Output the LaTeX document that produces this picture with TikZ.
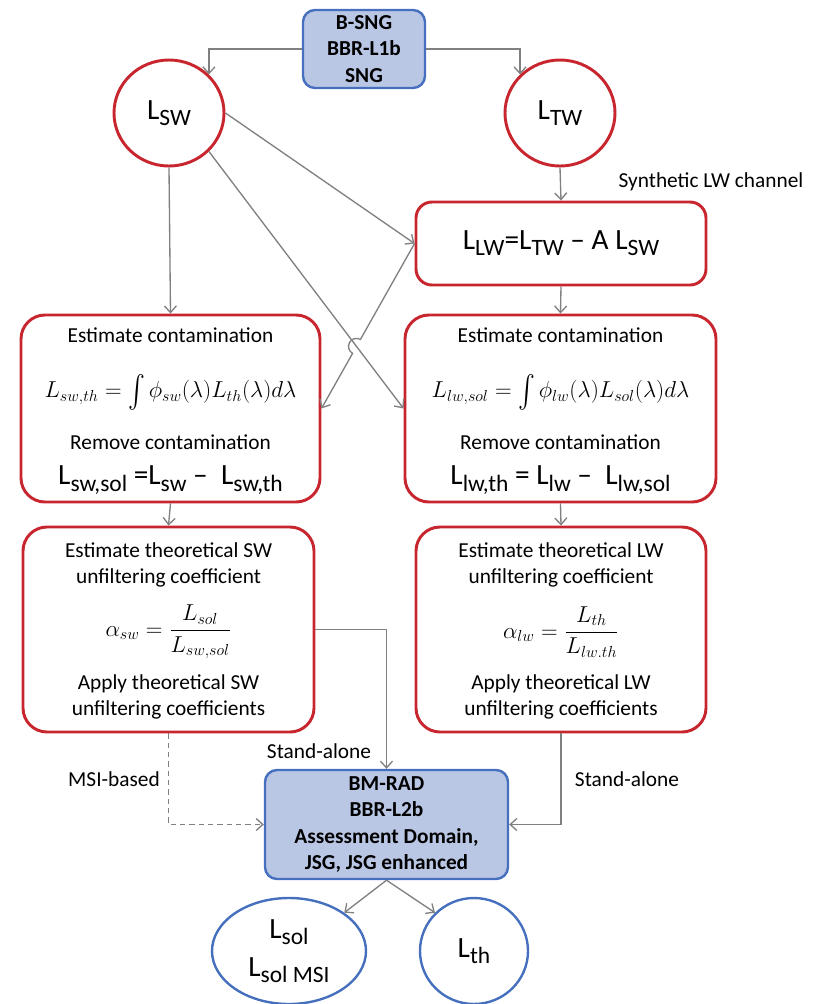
\documentclass[tikz,border=0pt]{standalone}
\usepackage{amsmath}
\usepackage{fontspec}
\setmainfont{Carlito}
\usetikzlibrary{arrows.meta,calc,positioning,shapes.geometric,intersections}

\definecolor{boxred}{RGB}{200,38,46}
\definecolor{boxblue}{RGB}{70,112,190}
\definecolor{fillblue}{RGB}{185,198,228}
\definecolor{linkgray}{RGB}{128,128,128}

% lowered, slightly smaller text subscript (Word style)
\newcommand{\lsub}[1]{\raisebox{-0.45ex}{\scalebox{0.8}{#1}}}
% tall integral sign that keeps the formula compact
\newcommand{\tallint}{\mathop{\raisebox{-0.2ex}{\scalebox{1.1}[1.4]{$\int$}}}\nolimits}

\begin{document}
\begin{tikzpicture}[x=0.75pt,y=-0.75pt,>={Straight Barb[length=5pt,width=9pt]}]
  % styles (coordinates below are in pixels of the original, y downwards)
  \tikzset{
    proc/.style = {draw=boxred, line width=2.2pt, rounded corners=18pt, inner sep=0pt},
    data/.style = {draw=boxblue, line width=1.8pt, fill=fillblue, rounded corners=9pt, align=center,
                   font=\bfseries\fontsize{16}{19.8}\selectfont},
    var/.style  = {ellipse, draw=boxred, line width=2.2pt, inner sep=0pt, align=center,
                   minimum width=82.5pt, minimum height=79.5pt, font=\fontsize{22}{28.5}\selectfont},
    res/.style  = {var, draw=boxblue, line width=1.8pt},
    txt/.style  = {align=center, inner sep=0pt, font=\fontsize{16}{19.5}\selectfont},
    big/.style  = {inner sep=0pt, font=\fontsize{22}{26}\selectfont},
    eqn/.style  = {inner sep=0pt, font=\fontsize{18}{22}\selectfont},
    link/.style = {->, draw=linkgray, line width=1pt},
    lab/.style  = {font=\fontsize{16}{19}\selectfont}
  }
  \useasboundingbox (0,0) rectangle (814,1004);

  % ========= Level 1 input and channels =========
  \node[data, minimum width=91.5pt, minimum height=58.5pt] (sng) at (364,49) {B-SNG\\BBR-L1b\\SNG};
  \node[var] (lsw) at (169,113) {L\lsub{SW}};
  \node[var] (ltw) at (560,113) {L\lsub{TW}};

  % synthetic LW channel
  \node[proc, rounded corners=12pt, minimum width=217.5pt, minimum height=62.25pt] (lw) at (561,243.5) {};
  \node[big] (lw-eq) at (561,243.5) {L\lsub{LW}=L\lsub{TW} -- A L\lsub{SW}};
  \node[lab] (synlab) at (711,182) {Synthetic LW channel};

  % ========= Contamination boxes =========
  \node[proc, minimum width=224.25pt, minimum height=140.25pt] (contl) at (170.5,408.5) {};
  \node[txt] (contl-t1) at (170.5,335) {Estimate contamination};
  \node[eqn] (contl-f)  at (170.5,392) {$L_{sw,th}=\tallint\phi_{sw}(\lambda)L_{th}(\lambda)d\lambda$};
  \node[txt] (contl-t2) at (170.5,442) {Remove contamination};
  \node[big] (contl-e)  at (170.5,480) {L\lsub{sw,sol} =L\lsub{sw} --\ \ L\lsub{sw,th}};

  \node[proc, minimum width=233.25pt, minimum height=140.25pt] (contr) at (560.5,408.5) {};
  \node[txt] (contr-t1) at (560.5,335) {Estimate contamination};
  \node[eqn] (contr-f)  at (560.5,392) {$L_{lw,sol}=\tallint\phi_{lw}(\lambda)L_{sol}(\lambda)d\lambda$};
  \node[txt] (contr-t2) at (560.5,442) {Remove contamination};
  \node[big] (contr-e)  at (560.5,480) {L\lsub{lw,th} = L\lsub{lw} --\ \ L\lsub{lw,sol}};

  % ========= Unfiltering coefficient boxes =========
  \node[proc, minimum width=218.25pt, minimum height=153.75pt] (coefl) at (168.5,629.5) {};
  \node[txt] (coefl-t1) at (168.5,565) {Estimate theoretical SW\\unfiltering coefficient};
  \node[eqn] (coefl-f) at (168.5,632) {$\alpha_{sw}=\dfrac{L_{sol}}{L_{sw,sol}}$};
  \node[txt] (coefl-t2) at (168.5,696.5) {Apply theoretical SW\\unfiltering coefficients};

  \node[proc, minimum width=217.5pt, minimum height=153.75pt] (coefr) at (561,629.5) {};
  \node[txt] (coefr-t1) at (561,565) {Estimate theoretical LW\\unfiltering coefficient};
  \node[eqn] (coefr-f) at (561,632) {$\alpha_{lw}=\dfrac{L_{th}}{L_{lw.th}}$};
  \node[txt] (coefr-t2) at (561,696.5) {Apply theoretical LW\\unfiltering coefficients};

  % ========= Level 2 product and outputs =========
  \node[data, minimum width=182.25pt, minimum height=81.75pt] (bm) at (386.5,824.5)
    {BM-RAD\\BBR-L2b\\Assessment Domain,\\JSG, JSG enhanced};
  \node[res, minimum width=115.5pt] (lsol) at (289,951) {L\lsub{sol}\\L\lsub{sol MSI}};
  \node[res, minimum width=81pt] (lth) at (474,951) {L\lsub{th}};

  \node[lab] (salab1) at (319,751) {Stand-alone};
  \node[lab] (msilab) at (114,779) {MSI-based};
  \node[lab] (salab2) at (627,779) {Stand-alone};

  % ========= Connectors =========
  \draw[link] (sng.west) -| (lsw.north east);
  \draw[link] (sng.east) -| (ltw.north west);
  \draw[link] (lsw.south) -- (contl.north);
  \draw[link] (ltw.south) -- (lw.north);
  \draw[link] (lw.south) -- (contr.north);
  \draw[link] (lsw.east) -- (lw.west);
  \draw[link, name path=swlong] (lsw.south east) -- (contr.west);
  % LW back to SW contamination, with a hop over the crossing line
  \path[name path=lwback] (lw.west) -- (contl.east);
  \path[name intersections={of=swlong and lwback, by=hop}];
  \draw[link] let \p1 = ($(lw.west)-(contl.east)$), \n1 = {atan2(\y1,\x1)} in
    (lw.west) -- ($(hop)!6pt!(lw.west)$) arc[start angle=\n1, end angle=\n1+180, radius=6pt] -- (contl.east);
  \draw[link] (contl.south) -- (coefl.north);
  \draw[link] (contr.south) -- (coefr.north);
  \draw[link] (coefl.east) -| (bm.north);
  \draw[link, dash pattern=on 4pt off 3pt] (coefl.south) |- (bm.west);
  \draw[link] (coefr.south) |- (bm.east);
  \draw[link] (bm.south) -- (lsol.north east);
  \draw[link] (bm.south) -- (lth.north west);
\end{tikzpicture}
\end{document}
